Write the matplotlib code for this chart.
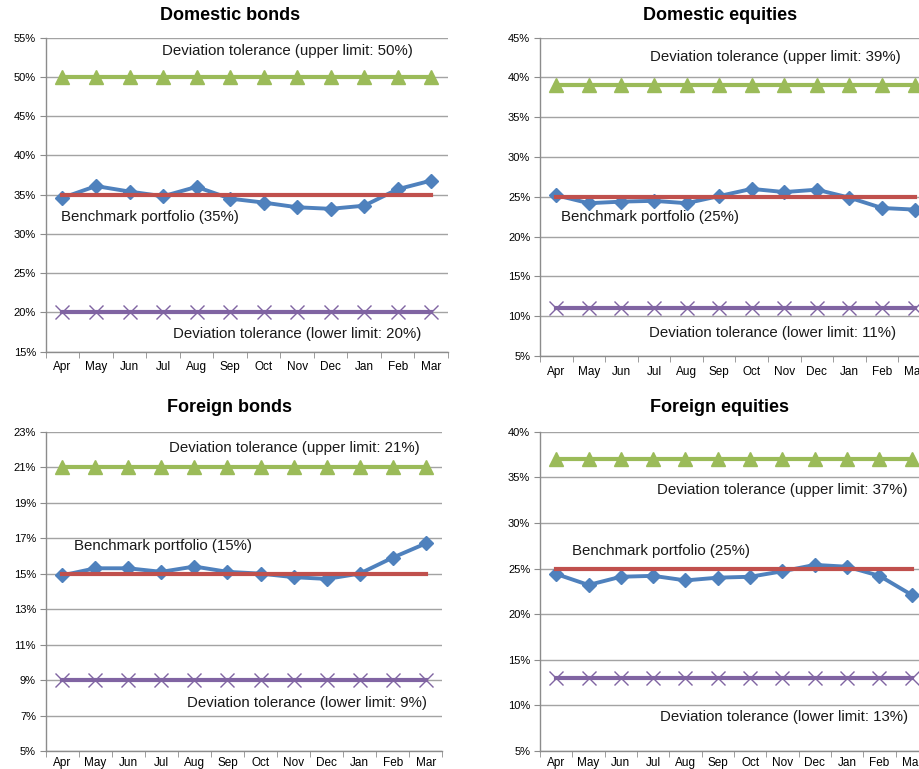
import numpy as np
import matplotlib
matplotlib.use("Agg")
import matplotlib.pyplot as plt
from matplotlib.ticker import FixedLocator, FuncFormatter

plt.rcParams['font.family'] = ['Liberation Sans', 'DejaVu Sans']

months = ['Apr', 'May', 'Jun', 'Jul', 'Aug', 'Sep', 'Oct', 'Nov', 'Dec', 'Jan', 'Feb', 'Mar']

# actual allocation (%) per asset class
dom_bonds = [34.6, 36.1, 35.4, 34.8, 36.0, 34.5, 34.0, 33.4, 33.2, 33.6, 35.7, 36.8]
dom_equities = [25.2, 24.2, 24.4, 24.5, 24.2, 25.1, 26.0, 25.6, 25.9, 24.9, 23.6, 23.4]
for_bonds = [14.9, 15.3, 15.3, 15.1, 15.4, 15.1, 15.0, 14.8, 14.7, 15.0, 15.9, 16.7]
for_equities = [24.4, 23.2, 24.1, 24.2, 23.7, 24.0, 24.1, 24.7, 25.4, 25.2, 24.2, 22.1]

# benchmark, upper limit, lower limit
dom_bonds_limits = (35, 50, 20)
dom_equities_limits = (25, 39, 11)
for_bonds_limits = (15, 21, 9)
for_equities_limits = (25, 37, 13)

BLUE = '#4f81bd'
RED = '#c0504d'
GREEN = '#9bbb59'
PURPLE = '#8064a2'
GRID = '#a3a3a3'
SPINE = '#8c8c8c'

W, H = 920, 769
fig = plt.figure(figsize=(W / 100, H / 100), dpi=100)


def px_axes(left, top, right, bottom):
    return fig.add_axes([left / W, 1 - bottom / H, (right - left) / W, (bottom - top) / H])


def panel(box, title, title_xy, actual, limits, yticks, labels, xpad=7):
    ax = px_axes(*box)
    bench, upper, lower = limits
    x = np.arange(len(months))
    n = len(months)
    ax.plot(x, [upper] * n, color=GREEN, lw=3, marker='^', ms=9.5, zorder=3)
    ax.plot(x, [lower] * n, color=PURPLE, lw=3, marker='x', ms=10, mew=1.0, zorder=3)
    ax.plot(x, actual, color=BLUE, lw=2.8, marker='D', ms=7, zorder=4)
    ax.plot(x, [bench] * n, color=RED, lw=3, zorder=5)

    ax.set_xlim(-0.5, n - 0.5)
    ax.set_ylim(yticks[0], yticks[-1])
    ax.yaxis.set_major_locator(FixedLocator(yticks))
    ax.yaxis.set_major_formatter(FuncFormatter(lambda v, p: f'{v:.0f}%'))
    ax.set_xticks(x)
    ax.set_xticklabels(months)
    ax.xaxis.set_minor_locator(FixedLocator(np.arange(-0.5, n, 1.0)))
    ax.tick_params(axis='x', which='major', length=0, pad=xpad, labelsize=8.5)
    ax.tick_params(axis='x', which='minor', length=4, color=SPINE, direction='out')
    ax.tick_params(axis='y', length=4, color=SPINE, labelsize=8, pad=3)

    ax.grid(axis='y', color=GRID, lw=1.0)
    ax.set_axisbelow(True)
    for s in ('top', 'right'):
        ax.spines[s].set_visible(False)
    for s in ('left', 'bottom'):
        ax.spines[s].set_color(SPINE)
        ax.spines[s].set_linewidth(1.0)

    for (tx, ty, txt) in labels:
        ax.text(tx, ty, txt, ha='center', va='center', fontsize=10.8, color='#1a1a1a')

    fig.text(title_xy[0] / W, 1 - title_xy[1] / H, title, ha='center', va='center',
             fontsize=13, fontweight='bold')
    return ax


panel((45.7, 37.7, 448, 351.7), 'Domestic bonds', (230, 16), dom_bonds, dom_bonds_limits,
      np.arange(15, 56, 5),
      [(6.72, 53.3, 'Deviation tolerance (upper limit: 50%)'),
       (2.61, 32.2, 'Benchmark portfolio (35%)'),
       (6.99, 17.2, 'Deviation tolerance (lower limit: 20%)')])

panel((540, 37.7, 930.8, 356), 'Domestic equities', (720, 16), dom_equities, dom_equities_limits,
      np.arange(5, 46, 5),
      [(6.72, 42.6, 'Deviation tolerance (upper limit: 39%)'),
       (2.88, 22.5, 'Benchmark portfolio (25%)'),
       (6.64, 7.85, 'Deviation tolerance (lower limit: 11%)')])

panel((45.7, 431.7, 442.3, 751), 'Foreign bonds', (230, 408), for_bonds, for_bonds_limits,
      np.arange(5, 24, 2),
      [(7.01, 22.1, 'Deviation tolerance (upper limit: 21%)'),
       (3.06, 16.58, 'Benchmark portfolio (15%)'),
       (7.40, 7.69, 'Deviation tolerance (lower limit: 9%)')], xpad=4)

panel((540, 431.7, 928, 751), 'Foreign equities', (720, 408), for_equities, for_equities_limits,
      np.arange(5, 41, 5),
      [(6.98, 33.57, 'Deviation tolerance (upper limit: 37%)'),
       (3.25, 26.96, 'Benchmark portfolio (25%)'),
       (7.05, 8.76, 'Deviation tolerance (lower limit: 13%)')], xpad=4)

fig.savefig('out.png', dpi=100)
